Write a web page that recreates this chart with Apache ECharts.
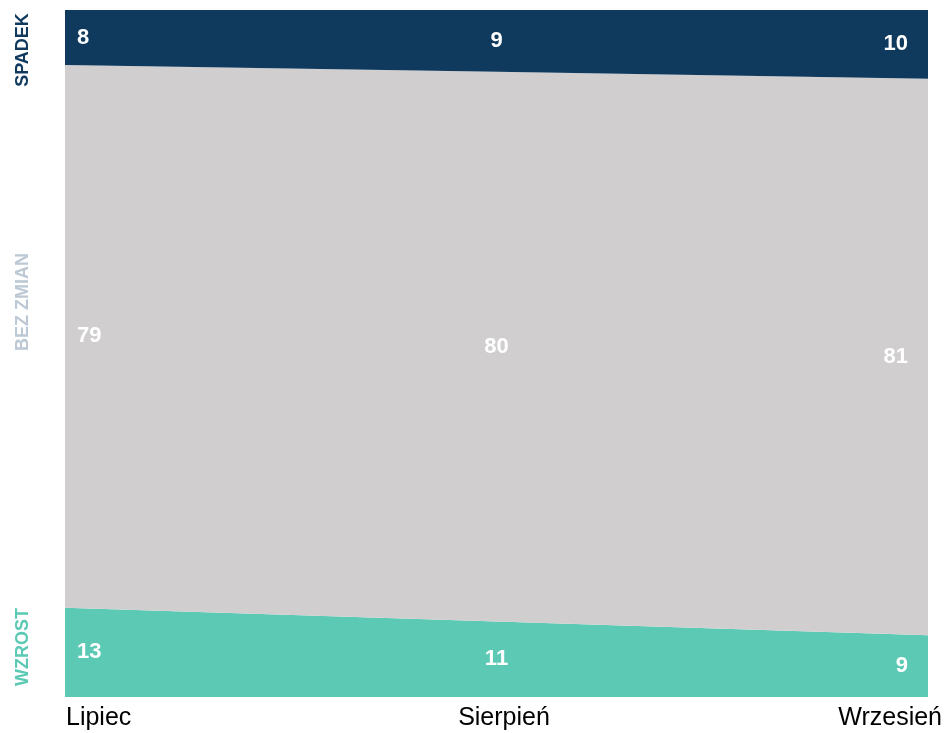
<!DOCTYPE html>
<html>
<head>
<meta charset="utf-8">
<script src="https://cdn.jsdelivr.net/npm/echarts@6/dist/echarts.min.js"></script>
<style>
  html, body { margin: 0; padding: 0; background: #ffffff; }
  #chart { width: 945px; height: 733px; }
</style>
</head>
<body>
<div id="chart"></div>
<script>
// Months on the x axis
const months = ['Lipiec', 'Sierpień', 'Wrzesień'];
// Share of answers (%) per month, stacked bottom to top
const wzrost = [13, 11, 9];
const bezZmian = [79, 80, 81];
const spadek = [8, 9, 10];
// Band names shown along the left edge
const bandNames = ['SPADEK', 'BEZ ZMIAN', 'WZROST'];

const COLORS = {
  spadek: '#0f3a5e',
  bez: '#d0cecf',
  wzrost: '#5bc9b4',
  bezText: '#bcc8d4'
};

// Midpoint of each band, used to place its value label
function mids(lower, values) {
  return values.map((v, i) => lower[i] + v / 2);
}
const zeros = months.map(() => 0);
const lowerBez = wzrost.slice();
const lowerSpadek = wzrost.map((v, i) => v + bezZmian[i]);

function labelSeries(values, lower) {
  const m = mids(lower, values);
  const last = months.length - 1;
  return {
    type: 'scatter',
    symbolSize: 1,
    silent: true,
    z: 10,
    itemStyle: { opacity: 0 },
    data: m.map((y, i) => ({
      value: [i, y],
      label: {
        show: true,
        position: 'inside',
        formatter: String(values[i]),
        align: i === 0 ? 'left' : (i === last ? 'right' : 'center'),
        offset: i === 0 ? [12, 0] : (i === last ? [-20, 0] : [0, 0]),
        color: '#ffffff',
        opacity: 1,
        fontFamily: 'Liberation Sans, Arial, sans-serif',
        fontWeight: 'bold',
        fontSize: 22
      }
    }))
  };
}

function areaSeries(name, values, color) {
  return {
    name: name,
    type: 'line',
    stack: 'total',
    symbol: 'none',
    lineStyle: { width: 0 },
    areaStyle: { color: color, opacity: 1 },
    itemStyle: { color: color },
    data: values
  };
}

const chart = echarts.init(document.getElementById('chart'), null, { renderer: 'canvas' });

chart.setOption({
  animation: false,
  backgroundColor: '#ffffff',
  grid: [
    { left: 65, right: 17, top: 10, bottom: 36 },
    // wider strip carrying the month labels
    { left: 66, right: 1, top: 10, bottom: 36 }
  ],
  xAxis: [
    {
      gridIndex: 0,
      type: 'category',
      data: months,
      boundaryGap: false,
      axisLine: { show: false },
      axisTick: { show: false },
      axisLabel: { show: false },
      splitLine: { show: false }
    },
    {
      gridIndex: 1,
      type: 'category',
      data: months,
      boundaryGap: false,
      axisLine: { show: false },
      axisTick: { show: false },
      splitLine: { show: false },
      axisLabel: {
        show: true,
        margin: 9,
        color: '#000000',
        fontFamily: 'Liberation Sans, Arial, sans-serif',
        fontSize: 25,
        alignMinLabel: 'left',
        alignMaxLabel: 'right'
      }
    }
  ],
  yAxis: [
    { gridIndex: 0, type: 'value', min: 0, max: 100, show: false },
    { gridIndex: 1, type: 'value', min: 0, max: 100, show: false }
  ],
  series: [
    areaSeries('WZROST', wzrost, COLORS.wzrost),
    areaSeries('BEZ ZMIAN', bezZmian, COLORS.bez),
    areaSeries('SPADEK', spadek, COLORS.spadek),
    labelSeries(wzrost, zeros),
    labelSeries(bezZmian, lowerBez),
    labelSeries(spadek, lowerSpadek)
  ],
  graphic: [
    { name: bandNames[0], y: 50, color: COLORS.spadek },
    { name: bandNames[1], y: 302, color: COLORS.bezText },
    { name: bandNames[2], y: 647, color: COLORS.wzrost }
  ].map(t => ({
    type: 'text',
    x: 23,
    y: t.y,
    rotation: Math.PI / 2,
    style: {
      text: t.name,
      fill: t.color,
      fontFamily: 'Liberation Sans, Arial, sans-serif',
      fontWeight: 'bold',
      fontSize: 18,
      align: 'center',
      verticalAlign: 'middle'
    }
  }))
});
</script>
</body>
</html>
